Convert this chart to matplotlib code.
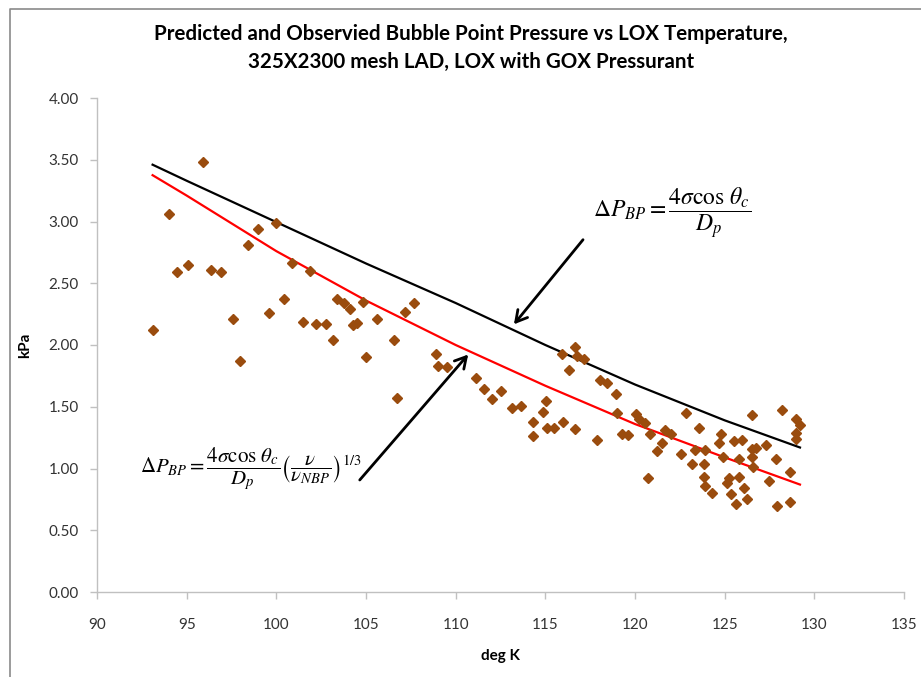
import matplotlib
matplotlib.use("Agg")
import matplotlib.pyplot as plt
from matplotlib.lines import Line2D

plt.rcParams['font.family'] = ['Lato', 'DejaVu Sans']
plt.rcParams['mathtext.fontset'] = 'stix'

# Observed bubble point data (deg K, kPa)
obs_T = [93.1, 94.0, 94.45, 95.1, 95.9, 96.35, 96.9, 97.6, 97.95, 98.4,
         98.95, 99.6, 100.0, 100.4, 100.9, 101.85, 101.5, 102.2, 102.75, 103.15,
         103.4, 103.75, 104.1, 104.3, 104.5, 104.85, 105.0, 105.6, 106.55, 106.75,
         107.2, 107.65, 108.9, 109.0, 109.5, 111.15, 111.6, 112.05, 112.5, 113.15,
         113.65, 114.3, 114.3, 114.85, 115.05, 115.1, 115.5, 116.0, 115.95, 116.3,
         116.65, 116.65, 116.75, 117.15, 117.9, 118.05, 118.45, 118.95, 119.0, 119.3,
         119.6, 120.05, 120.2, 120.55, 120.7, 120.85, 121.2, 121.5, 121.7, 122.0,
         122.55, 122.85, 123.2, 123.35, 123.55, 123.85, 123.85, 123.9, 123.9, 124.3,
         124.7, 124.8, 124.9, 125.15, 125.25, 125.35, 125.5, 125.65, 125.8, 125.8,
         125.95, 126.1, 126.25, 126.5, 126.5, 126.5, 126.6, 126.75, 127.3, 127.45,
         127.85, 127.9, 128.2, 128.65, 128.65, 128.95, 129.0, 129.0, 129.2]
obs_P = [2.12, 3.06, 2.59, 2.65, 3.48, 2.61, 2.59, 2.21, 1.87, 2.81,
         2.94, 2.26, 2.99, 2.37, 2.66, 2.60, 2.19, 2.17, 2.17, 2.04,
         2.37, 2.34, 2.29, 2.16, 2.18, 2.35, 1.90, 2.21, 2.04, 1.57,
         2.27, 2.34, 1.93, 1.83, 1.82, 1.73, 1.64, 1.56, 1.63, 1.49,
         1.51, 1.38, 1.26, 1.46, 1.55, 1.33, 1.33, 1.38, 1.93, 1.80,
         1.32, 1.98, 1.91, 1.89, 1.23, 1.72, 1.69, 1.60, 1.45, 1.28,
         1.27, 1.44, 1.40, 1.37, 0.92, 1.28, 1.14, 1.21, 1.31, 1.28,
         1.12, 1.45, 1.04, 1.15, 1.33, 1.04, 0.93, 1.15, 0.86, 0.80,
         1.21, 1.28, 1.09, 0.88, 0.92, 0.79, 1.22, 0.71, 1.08, 0.93,
         1.23, 0.84, 0.75, 1.16, 1.43, 1.09, 1.01, 1.17, 1.19, 0.90,
         1.08, 0.70, 1.47, 0.97, 0.73, 1.24, 1.29, 1.40, 1.35]

# Model curves
model_T = [93.1, 95, 100, 105, 110, 115, 120, 125, 129.2]
pred_basic = [3.46, 3.33, 2.995, 2.66, 2.34, 2.00, 1.68, 1.39, 1.17]
pred_visc = [3.375, 3.21, 2.76, 2.36, 2.00, 1.67, 1.36, 1.09, 0.87]

xticks = [90, 95, 100, 105, 110, 115, 120, 125, 130, 135]
yticks = [0.0, 0.5, 1.0, 1.5, 2.0, 2.5, 3.0, 3.5, 4.0]

W, H = 921, 677
fig = plt.figure(figsize=(W / 100, H / 100), dpi=100)
ax = fig.add_axes([97 / W, 1 - 592 / H, (904 - 97) / W, (592 - 98) / H])

ax.plot(model_T, pred_basic, color='black', lw=1.6, zorder=2)
ax.plot(model_T, pred_visc, color='#ff0000', lw=1.6, zorder=2)
ax.plot(obs_T, obs_P, linestyle='none', marker='D', markersize=5.2,
        color='#9a4c0e', markeredgecolor='#9a4c0e', zorder=3)

ax.set_xlim(90, 135)
ax.set_ylim(0, 4)
ax.set_xticks(xticks)
ax.set_yticks(yticks)
ax.set_xticklabels([str(t) for t in xticks])
ax.set_yticklabels([f"{t:.2f}" for t in yticks])
for s in ['top', 'right']:
    ax.spines[s].set_visible(False)
for s in ['left', 'bottom']:
    ax.spines[s].set_color('#c0c0c0')
    ax.spines[s].set_linewidth(1.0)
ax.tick_params(axis='both', colors='#c0c0c0', labelcolor='#333333',
               labelsize=11, length=5, width=1.0)
ax.tick_params(axis='x', pad=14)
ax.tick_params(axis='y', pad=8)

ax.set_xlabel('deg K', fontsize=11, fontweight='bold', labelpad=12)
ax.set_ylabel('kPa', fontsize=11, fontweight='bold', labelpad=12)

fig.text(471 / W, 1 - 34 / H,
         'Predicted and Observied Bubble Point Pressure vs LOX Temperature,',
         ha='center', va='center', fontsize=14.8, fontweight='bold')
fig.text(471 / W, 1 - 62 / H,
         '325X2300 mesh LAD, LOX with GOX Pressurant',
         ha='center', va='center', fontsize=14.8, fontweight='bold')

# Equations
ax.text(122.1, 3.07,
        r'$\Delta P_{BP} = \dfrac{4\sigma\cos\,\theta_c}{D_p}$',
        ha='center', va='center', fontsize=17)
ax.text(98.6, 0.99,
        r'$\Delta P_{BP} = \dfrac{4\sigma\cos\,\theta_c}{D_p}\genfrac{(}{)}{0.8}{0}{\nu}{\nu_{NBP}}^{1/3}$',
        ha='center', va='center', fontsize=15)

# Arrows
ax.annotate('', xy=(113.15, 2.15), xytext=(117.2, 2.87),
            arrowprops=dict(arrowstyle='->,head_length=0.8,head_width=0.45',
                            color='black', lw=2))
ax.annotate('', xy=(110.8, 1.94), xytext=(104.55, 0.89),
            arrowprops=dict(arrowstyle='->,head_length=0.8,head_width=0.45',
                            color='black', lw=2))

# chart frame (left and top edges visible)
fig.add_artist(Line2D([10 / W, 10 / W, 1.0], [0.0, 1 - 9 / H, 1 - 9 / H],
                      transform=fig.transFigure, color='#8a8a8a', lw=1.2))

fig.savefig('out.png', dpi=100)
